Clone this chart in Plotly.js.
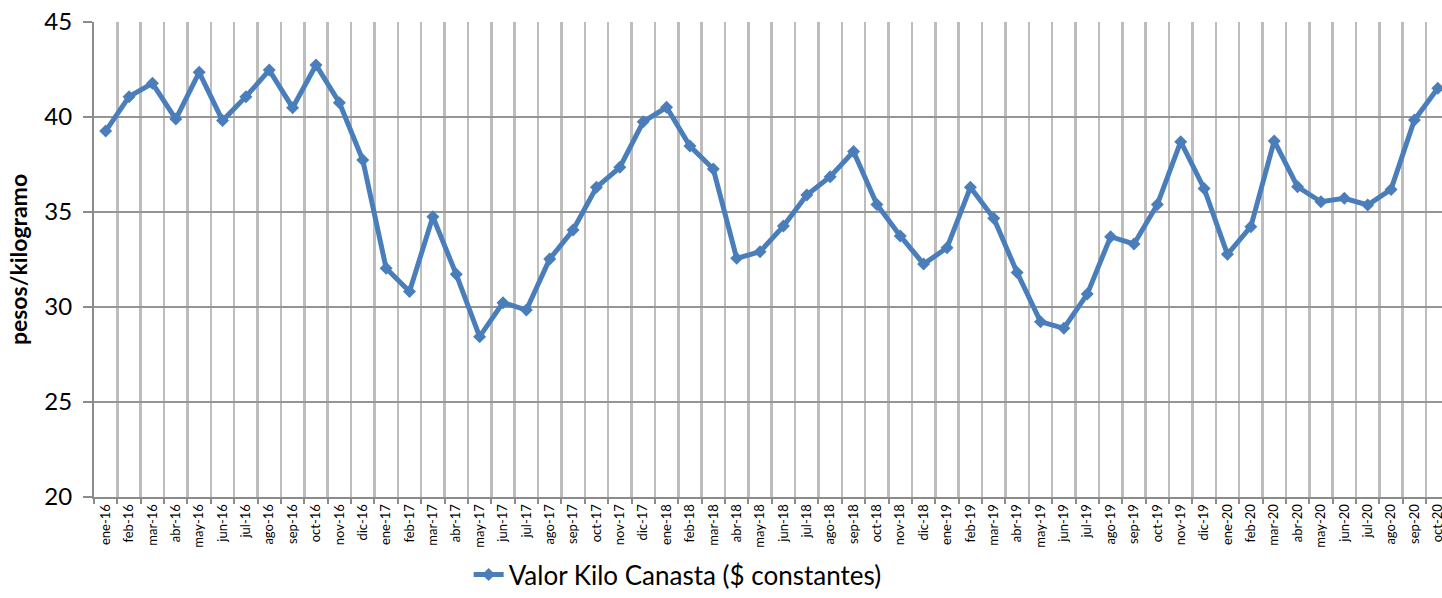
<!DOCTYPE html>
<html>
<head>
<meta charset="utf-8">
<script src="https://cdn.plot.ly/plotly-3.0.1.min.js"></script>
<style>
html,body{margin:0;padding:0;overflow:hidden;background:#fff;}
#chart{width:1442px;height:598px;}
</style>
</head>
<body>
<div id="chart"></div>
<script>
var months = ["ene-16","feb-16","mar-16","abr-16","may-16","jun-16","jul-16","ago-16","sep-16","oct-16","nov-16","dic-16",
"ene-17","feb-17","mar-17","abr-17","may-17","jun-17","jul-17","ago-17","sep-17","oct-17","nov-17","dic-17",
"ene-18","feb-18","mar-18","abr-18","may-18","jun-18","jul-18","ago-18","sep-18","oct-18","nov-18","dic-18",
"ene-19","feb-19","mar-19","abr-19","may-19","jun-19","jul-19","ago-19","sep-19","oct-19","nov-19","dic-19",
"ene-20","feb-20","mar-20","abr-20","may-20","jun-20","jul-20","ago-20","sep-20","oct-20"];

var valorKilo = [39.26,41.07,41.77,39.89,42.35,39.81,41.07,42.47,40.49,42.74,40.75,37.74,
32.04,30.81,34.75,31.72,28.44,30.23,29.84,32.53,34.05,36.30,37.35,39.75,
40.51,38.47,37.26,32.56,32.91,34.26,35.89,36.86,38.18,35.40,33.74,32.26,
33.12,36.30,34.67,31.81,29.23,28.88,30.68,33.70,33.32,35.40,38.70,36.24,
32.77,34.23,38.74,36.33,35.54,35.72,35.37,36.19,39.84,41.51];

var yTicks = [20,25,30,35,40,45];

var trace = {
  x: months,
  y: valorKilo,
  type: "scatter",
  mode: "lines+markers",
  name: "Valor Kilo Canasta ($ constantes)",
  line: {color: "#4a7ebb", width: 5},
  marker: {symbol: "diamond", size: 10, color: "#4a7ebb"},
  cliponaxis: false
};

var layout = {
  width: 1442,
  height: 598,
  margin: {l: 94, r: 0, t: 22, b: 101, autoexpand: false},
  paper_bgcolor: "#ffffff",
  plot_bgcolor: "#ffffff",
  font: {family: "Lato, 'Open Sans', sans-serif", color: "#000"},
  showlegend: true,
  legend: {
    orientation: "h",
    xref: "container", yref: "container",
    x: 0.325, xanchor: "left",
    y: 0.0, yanchor: "bottom",
    font: {size: 26, color: "#000"},
    bgcolor: "rgba(0,0,0,0)"
  },
  xaxis: {
    type: "category",
    range: [-0.5, 57.18],
    tickson: "boundaries",
    ticks: "outside",
    ticklen: 5,
    tickwidth: 2,
    tickcolor: "#8c8c8c",
    tickangle: -90,
    tickfont: {size: 13, color: "#000"},
    showgrid: true,
    gridcolor: "#bdbdbd",
    gridwidth: 2.5,
    showline: true,
    linecolor: "#8c8c8c",
    linewidth: 2,
    zeroline: false,
    fixedrange: true
  },
  yaxis: {
    range: [20, 45],
    tickvals: yTicks,
    ticktext: yTicks.map(String),
    ticks: "outside",
    ticklen: 9,
    tickwidth: 2,
    tickcolor: "#8c8c8c",
    tickfont: {size: 24, color: "#000"},
    ticklabelstandoff: 6,
    showgrid: true,
    gridcolor: "#959595",
    gridwidth: 2,
    showline: true,
    linecolor: "#8c8c8c",
    linewidth: 2,
    zeroline: false,
    title: {text: "pesos/kilogramo", font: {size: 23, color: "#000", family: "Lato, 'Open Sans', sans-serif", weight: "bold"}, standoff: 10},
    fixedrange: true
  }
};

Plotly.newPlot("chart", [trace], layout, {displayModeBar: false, staticPlot: true});
</script>
</body>
</html>
